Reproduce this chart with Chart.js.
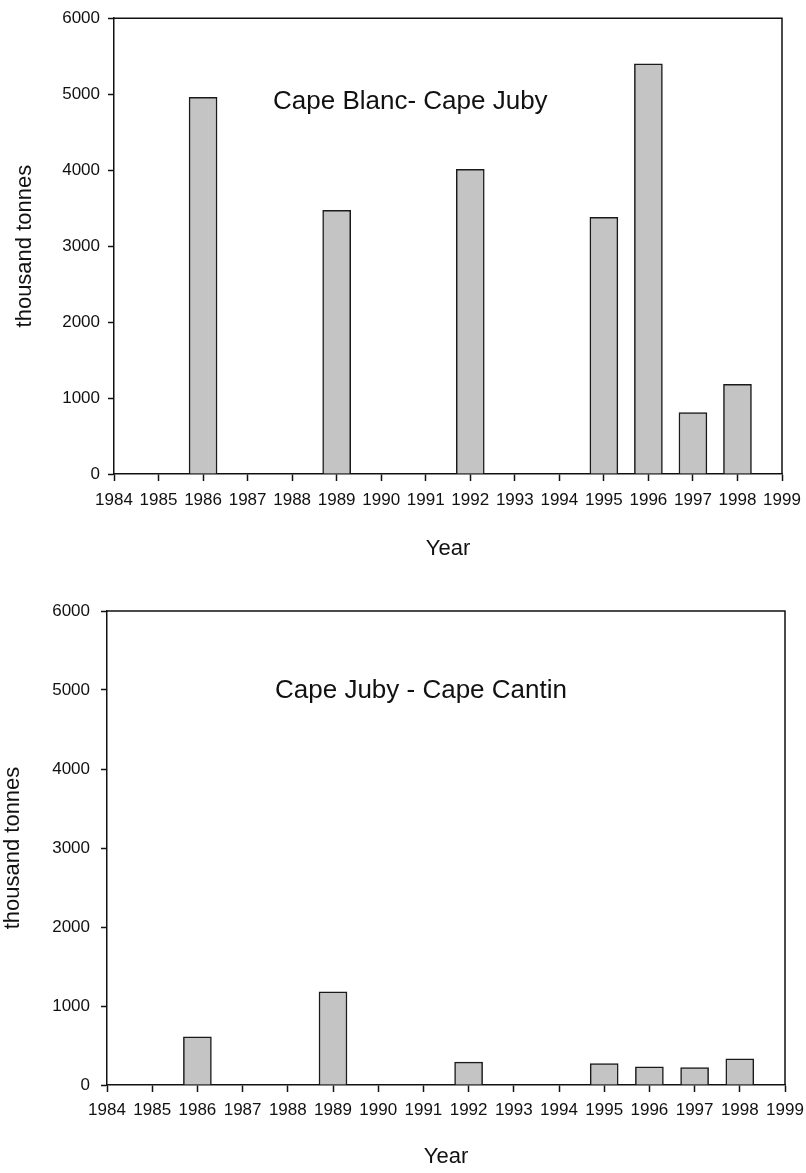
<!DOCTYPE html>
<html lang="en">
<head>
<meta charset="UTF-8">
<title>Catches by year</title>
<script src="https://cdn.jsdelivr.net/npm/chart.js"></script>
<style>
    body { margin: 0; background: #fff; }
    #wrap { position: relative; width: 806px; height: 1173px; }
    .box { position: absolute; left: 0; width: 806px; }
</style>
</head>
<body>
<div id="wrap">
    <div class="box" style="top:0;height:586px"><canvas id="chartTop"></canvas></div>
    <div class="box" style="top:586px;height:587px"><canvas id="chartBottom"></canvas></div>
</div>

<script>
    // years with a survey estimate
    const years = [1986, 1989, 1992, 1995, 1996, 1997, 1998];
    // thousand tonnes
    const blancJuby = [4960, 3470, 4010, 3380, 5400, 810, 1180];
    const jubyCantin = [610, 1180, 290, 270, 230, 220, 330];

    const yearMin = 1984;
    const yearMax = 1999;
    const yMax = 6000;
    const yStep = 1000;

    const titleTop = 'Cape Blanc- Cape Juby';
    const titleBottom = 'Cape Juby - Cape Cantin';

    const fontFamily = "'Liberation Sans', Arial, Helvetica, sans-serif";

    // frame round the plot and the region name inside it
    const framePlugin = {
        id: 'frame',
        afterDraw(chart, args, opts) {
            const a = chart.chartArea;
            const ctx = chart.ctx;
            ctx.save();
            ctx.strokeStyle = '#111';
            ctx.lineWidth = 1.5;
            ctx.beginPath();
            ctx.moveTo(a.left, a.top);
            ctx.lineTo(a.right, a.top);
            ctx.lineTo(a.right, a.bottom);
            ctx.stroke();
            ctx.fillStyle = '#111';
            ctx.font = '26px ' + fontFamily;
            ctx.textAlign = 'left';
            ctx.textBaseline = 'alphabetic';
            ctx.fillText(opts.text, a.left + opts.dx, a.top + opts.dy);
            ctx.restore();
        }
    };

    function makeChart(id, values, s) {
        const points = years.map((y, i) => ({ x: y, y: values[i] }));
        return new Chart(document.getElementById(id), {
            type: 'bar',
            data: {
                datasets: [{
                    data: points,
                    backgroundColor: '#c4c4c4',
                    borderColor: '#1a1a1a',
                    borderWidth: 1.5,
                    barThickness: 28,
                }]
            },
            options: {
                responsive: true,
                maintainAspectRatio: false,
                animation: false,
                layout: { padding: { top: s.top, right: s.right, bottom: 0, left: 0 } },
                plugins: {
                    legend: { display: false },
                    tooltip: { enabled: false },
                    frame: { text: s.title, dx: s.tdx, dy: s.tdy }
                },
                scales: {
                    x: {
                        type: 'linear',
                        min: yearMin,
                        max: yearMax,
                        offset: false,
                        afterFit: (sc) => {
                            sc.height = s.xh;
                            sc.paddingLeft = 0;
                            sc.paddingRight = 0;
                        },
                        ticks: {
                            stepSize: 1,
                            autoSkip: false,
                            maxRotation: 0,
                            padding: s.xpad,
                            color: '#111',
                            font: { family: fontFamily, size: 17 },
                            callback: (v) => String(v)
                        },
                        grid: { offset: false, drawOnChartArea: false, tickLength: 7, tickColor: '#111', tickWidth: 1.5 },
                        border: { color: '#111', width: 1.5 },
                        title: {
                            display: true,
                            text: 'Year',
                            color: '#111',
                            font: { family: fontFamily, size: 22 },
                            padding: { top: 0, bottom: s.xtp }
                        }
                    },
                    y: {
                        min: 0,
                        max: yMax,
                        afterFit: (sc) => { sc.width = s.yw; },
                        ticks: {
                            stepSize: yStep,
                            padding: s.ypad,
                            color: '#111',
                            font: { family: fontFamily, size: 17 },
                            callback: (v) => String(v)
                        },
                        grid: { drawOnChartArea: false, tickLength: 6, tickColor: '#111', tickWidth: 1.5 },
                        border: { color: '#111', width: 1.5 },
                        title: {
                            display: true,
                            text: 'thousand tonnes',
                            color: '#111',
                            font: { family: fontFamily, size: 22 },
                            padding: { top: s.ytp, bottom: 0 }
                        }
                    }
                }
            },
            plugins: [framePlugin]
        });
    }

    makeChart('chartTop', blancJuby, {
        title: titleTop, tdx: 159, tdy: 91,
        top: 17, right: 24, xh: 112, yw: 114,
        xpad: 9, xtp: 24, ypad: 8, ytp: 12
    });

    makeChart('chartBottom', jubyCantin, {
        title: titleBottom, tdx: 168, tdy: 87,
        top: 25, right: 21, xh: 88, yw: 107,
        xpad: 8, xtp: 3, ypad: 11, ytp: 0
    });
</script>
</body>
</html>
